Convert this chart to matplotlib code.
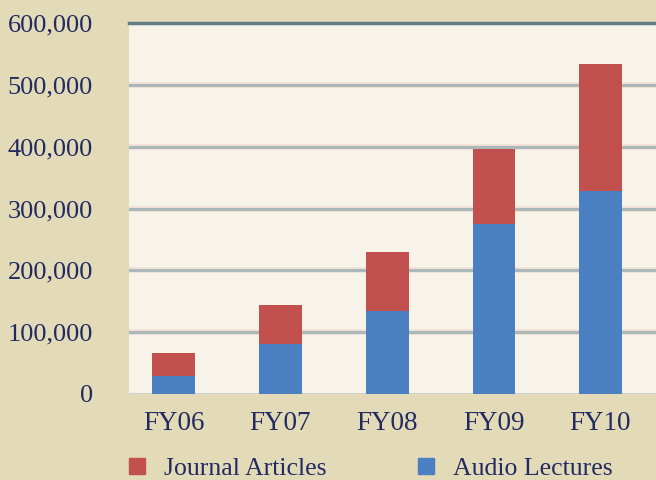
import matplotlib.pyplot as plt
from matplotlib.patches import Patch
from matplotlib.ticker import FuncFormatter

# data
years = ["FY06", "FY07", "FY08", "FY09", "FY10"]
audio_lectures = [29000, 81000, 135000, 275000, 329000]
journal_articles = [38000, 63000, 95000, 121000, 205000]
y_ticks = [0, 100000, 200000, 300000, 400000, 500000, 600000]

outer_bg = "#e3dab8"
inner_bg = "#f7f3e8"
blue = "#4a80c2"
red = "#c2504e"
navy = "#222a62"

plt.rcParams['font.family'] = ['Liberation Serif', 'DejaVu Serif']

fig = plt.figure(figsize=(6.56, 4.8), dpi=100, facecolor=outer_bg)
ax = fig.add_axes([129 / 656, 1 - 394 / 480, 1 - 129 / 656, (394 - 23) / 480])
ax.set_facecolor(inner_bg)

x = range(len(years))
# gridlines under the bars
for v in y_ticks[1:-1]:
    ax.axhline(v, color="#f3e1d6", lw=4, zorder=0)
    ax.axhline(v, color="#abb8ba", lw=2.2, zorder=1)
ax.axhline(y_ticks[-1], color="#627d85", lw=2.5, zorder=1, clip_on=False)
ax.axhline(0, color="#c8d0d0", lw=2, zorder=1)

ax.bar(x, audio_lectures, width=0.4, color=blue, zorder=2)
ax.bar(x, journal_articles, width=0.4, bottom=audio_lectures, color=red, zorder=2)

ax.set_xlim(-0.42, 4.52)
ax.set_ylim(0, 600000)
ax.set_yticks(y_ticks)
ax.yaxis.set_major_formatter(FuncFormatter(lambda v, p: f"{int(v):,}"))
ax.set_xticks(list(x))
ax.set_xticklabels(years)
ax.tick_params(axis="both", length=0, colors=navy)
ax.tick_params(axis="y", pad=26, labelsize=19)
ax.tick_params(axis="x", pad=12, labelsize=19.5)
for s in ax.spines.values():
    s.set_visible(False)

leg_kw = dict(frameon=False, fontsize=18.5, handlelength=0.62, handleheight=0.62,
              handletextpad=0.75, borderpad=0, borderaxespad=0, loc="center left",
              labelcolor=navy)
fig.legend(handles=[Patch(color=red, label="Journal Articles")],
           bbox_to_anchor=(129 / 656, 1 - 469 / 480), **leg_kw)
fig.legend(handles=[Patch(color=blue, label="Audio Lectures")],
           bbox_to_anchor=(418 / 656, 1 - 469 / 480), **leg_kw)

fig.savefig("out.png", dpi=100, facecolor=outer_bg)
